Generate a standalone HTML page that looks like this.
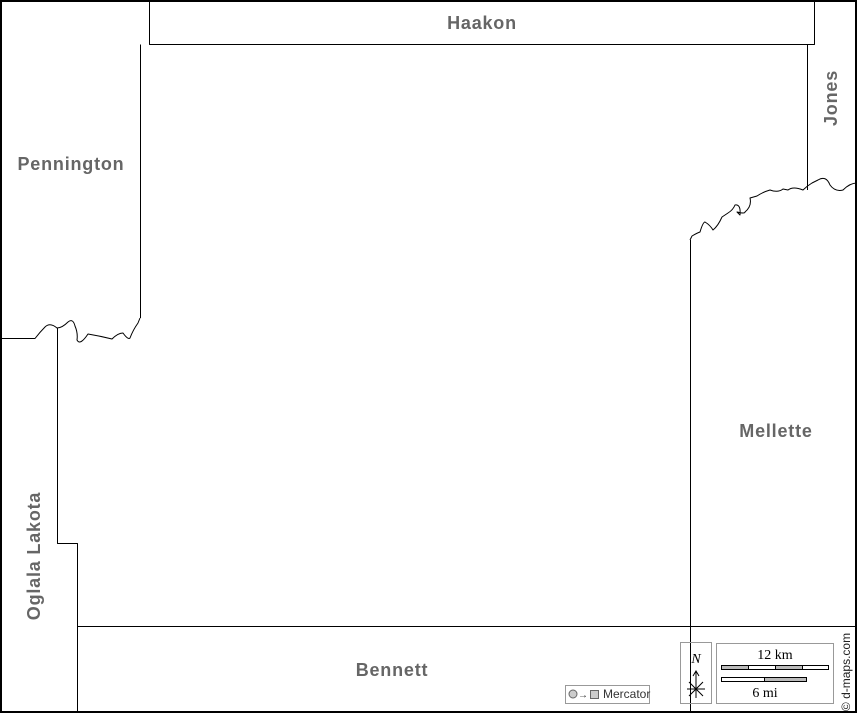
<!DOCTYPE html>
<html><head><meta charset="utf-8"><style>
html,body{margin:0;padding:0;background:#fff}
svg{display:block}
.l{font-family:"Liberation Sans",sans-serif;font-weight:bold;font-size:18px;letter-spacing:0.8px;fill:#666}
</style></head><body>
<svg width="857" height="713" viewBox="0 0 857 713" xmlns="http://www.w3.org/2000/svg">
<rect x="0" y="0" width="857" height="713" fill="#fff"/>
<g fill="none" stroke="#000" stroke-width="1" stroke-linejoin="round">
<path d="M149.5,0 V44.5 H814.5 V0"/>
<path d="M807.5,44.5 V190"/>
<path d="M140.5,44.5 V318"/>
<path d="M0,338.5 H35 Q40,332 45,327 Q50,322 57,328 Q62,328 68,322 Q73,318 75,326 Q78,333 77,340 Q80,346 88,334 Q100,336 112,339 Q118,333 123,333 Q128,340 130,338 Q133,330 138,323 L140,318"/>
<path d="M57.5,328 V543.5 H77.5 V713"/>
<path d="M77,626.5 H857"/>
<path d="M690.5,713 V240"/>
<path d="M690,240 L692,236 Q697,233 700,232 Q703,222 705,222 Q710,225 713,230 Q718,226 722,217 L728,213 Q733,210 735,205 Q741,204 740,215 L737,212 Q745,214 745,212 Q752,206 750,198 L757,196 Q763,192 770,190 Q778,193 783,189 L788,190 Q793,186 803,190 Q807,186 812,183 L818,180 Q826,175 830,185 Q835,192 843,190 Q850,183 857,183"/>
</g>
<rect x="1" y="1" width="855" height="711" fill="none" stroke="#000" stroke-width="2"/>
<text class="l" x="482" y="29" text-anchor="middle">Haakon</text>
<text class="l" x="71" y="170" text-anchor="middle">Pennington</text>
<text class="l" x="776" y="437" text-anchor="middle">Mellette</text>
<text class="l" x="392" y="676" text-anchor="middle">Bennett</text>
<text class="l" transform="translate(837,98) rotate(-90)" text-anchor="middle">Jones</text>
<text class="l" transform="translate(40,556) rotate(-90)" text-anchor="middle">Oglala Lakota</text>
<rect x="680.5" y="642.5" width="31" height="61" fill="none" stroke="#999"/>
<text x="696" y="663" font-family="Liberation Serif,serif" font-style="italic" font-size="14" text-anchor="middle">N</text>
<g stroke="#000" fill="none" stroke-width="1">
<path d="M696,698 V672 M693,676 L696,671 L699,676 M687,689 H705 M689,682 L703,696 M703,682 L689,696"/>
</g>
<rect x="716.5" y="643.5" width="117" height="60" fill="#fff" stroke="#999"/>
<text x="775" y="659" font-family="Liberation Serif,serif" font-size="14" text-anchor="middle">12 km</text>
<rect x="721.5" y="665.5" width="107" height="4" fill="#fff" stroke="#000"/>
<rect x="721.5" y="665.5" width="27" height="4" fill="#bbb" stroke="#000"/>
<rect x="775.5" y="665.5" width="27" height="4" fill="#bbb" stroke="#000"/>
<line x1="748.5" y1="665" x2="748.5" y2="670" stroke="#000"/>
<rect x="721.5" y="677.5" width="85" height="4" fill="#fff" stroke="#000"/>
<rect x="764.5" y="677.5" width="42" height="4" fill="#bbb" stroke="#000"/>
<text x="765" y="697" font-family="Liberation Serif,serif" font-size="14" text-anchor="middle">6 mi</text>
<text transform="translate(850,672) rotate(-90)" font-family="Liberation Sans,sans-serif" font-size="12" text-anchor="middle" fill="#222">© d-maps.com</text>
<rect x="565.5" y="685.5" width="84" height="18" fill="#fff" stroke="#999"/>
<circle cx="573" cy="694" r="4" fill="#ccc" stroke="#666"/>
<text x="578" y="698" font-family="Liberation Sans,sans-serif" font-size="10" fill="#333">→</text>
<rect x="590.5" y="690.5" width="8" height="8" fill="#ccc" stroke="#666"/>
<text x="603" y="698" font-family="Liberation Sans,sans-serif" font-size="12" fill="#333">Mercator</text>
</svg>
</body></html>
